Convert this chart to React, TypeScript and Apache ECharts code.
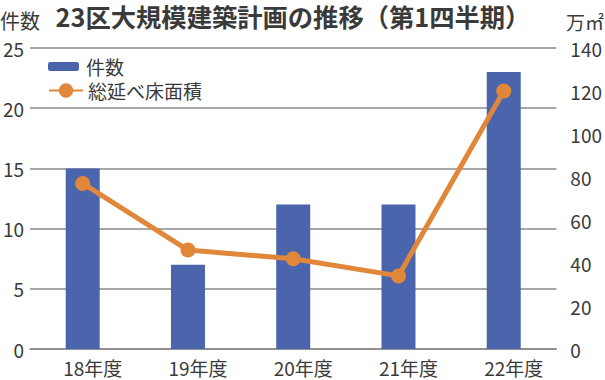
import React, { useEffect, useRef } from "react";
import * as echarts from "echarts";

const categories = ["18年度", "19年度", "20年度", "21年度", "22年度"];
const countValues = [15, 7, 12, 12, 23];
const areaValues = [77, 46, 42, 34, 120];
const titleText = "23区大規模建築計画の推移（第1四半期）";
const leftAxisName = "件数";
const rightAxisName = "万㎡";
const seriesNames = ["件数", "総延べ床面積"];

const FONT = '"Noto Sans CJK JP", "Noto Sans", sans-serif';
const TEXT = "#3a3a3a";
const BLUE = "#4a65ac";
const ORANGE = "#e0873a";

export default function App() {
  const ref = useRef<HTMLDivElement>(null);
  useEffect(() => {
    if (!ref.current) return;
    const chart = echarts.init(ref.current, undefined, { renderer: "svg" });
    chart.setOption({
      animation: false,
      textStyle: { fontFamily: FONT },
      title: {
        text: titleText,
        left: 293,
        textAlign: "center",
        top: 3,
        padding: 0,
        textStyle: { fontFamily: FONT, fontSize: 25.3, fontWeight: "bold", color: TEXT, lineHeight: 25 },
      },
      graphic: [
        { type: "text", left: 0, top: 10, style: { text: leftAxisName, fontFamily: FONT, fontSize: 20, fill: TEXT } },
        { type: "text", left: 566, top: 12, style: { text: rightAxisName, fontFamily: FONT, fontSize: 19, fill: TEXT } },
      ],
      legend: [
        {
          data: [seriesNames[0]],
          left: 48,
          top: 57,
          padding: 0,
          orient: "vertical",
          itemWidth: 31,
          itemHeight: 9,
          textStyle: { fontFamily: FONT, fontSize: 19, color: TEXT, lineHeight: 18, padding: [0, 0, 0, 2] },
        },
        {
          data: [seriesNames[1]],
          left: 48,
          top: 81,
          padding: 0,
          orient: "vertical",
          itemWidth: 34,
          itemHeight: 18,
          textStyle: { fontFamily: FONT, fontSize: 19, color: TEXT, lineHeight: 18 },
        },
      ],
      grid: { left: 28, right: 48, top: 48, bottom: 31, containLabel: false },
      xAxis: {
        type: "category",
        data: categories,
        axisTick: { show: false },
        axisLine: { show: true, lineStyle: { color: "#8a8a8a", width: 1.5 } },
        axisLabel: { fontFamily: FONT, fontSize: 19, color: TEXT, margin: 9, padding: [0, 0, 0, 20] },
      },
      yAxis: [
        {
          type: "value",
          min: 0,
          max: 25,
          interval: 5,
          axisLine: { show: false },
          axisTick: { show: false },
          splitLine: { lineStyle: { color: "#8a8a8a", width: 1.5 } },
          axisLabel: { fontFamily: FONT, fontSize: 19, color: TEXT, margin: 6 },
        },
        {
          type: "value",
          min: 0,
          max: 140,
          interval: 20,
          axisLine: { show: false },
          axisTick: { show: false },
          splitLine: { show: false },
          axisLabel: { fontFamily: FONT, fontSize: 19, color: TEXT, margin: 14 },
        },
      ],
      series: [
        {
          name: seriesNames[0],
          type: "bar",
          data: countValues,
          barWidth: 34,
          itemStyle: { color: BLUE },
          z: 2,
        },
        {
          name: seriesNames[1],
          type: "line",
          yAxisIndex: 1,
          data: areaValues,
          symbol: "circle",
          symbolSize: 15,
          lineStyle: { color: ORANGE, width: 5 },
          itemStyle: { color: ORANGE },
          z: 3,
        },
      ],
    });
    return () => chart.dispose();
  }, []);
  return <div ref={ref} style={{ width: 605, height: 380, position: "absolute", left: 0, top: 0 }} />;
}
